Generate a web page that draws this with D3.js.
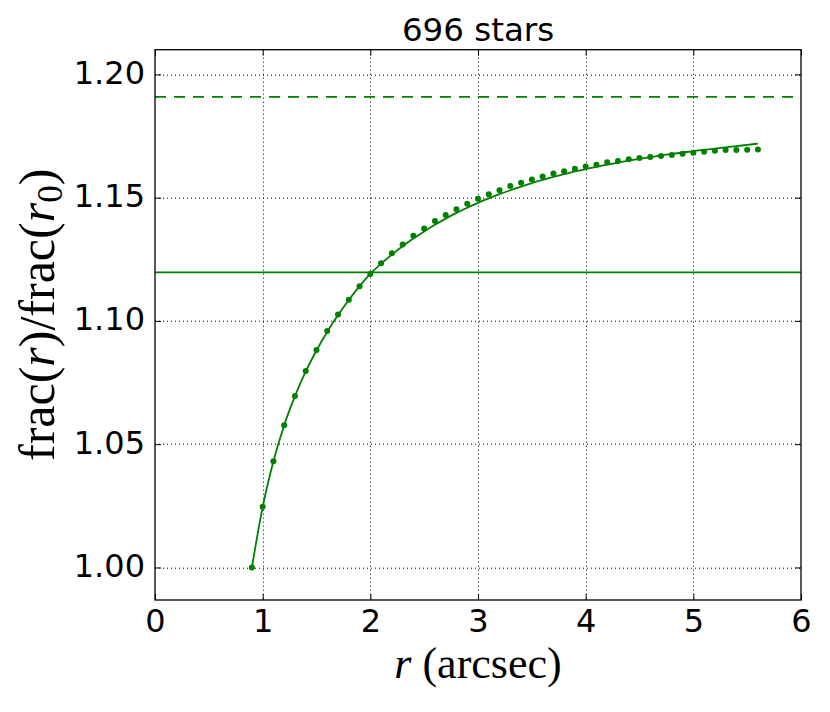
<!DOCTYPE html>
<html>
<head>
<meta charset="utf-8">
<script src="https://cdn.jsdelivr.net/npm/d3@7"></script>
<style>
  html, body { margin: 0; padding: 0; background: #fff; }
  svg { display: block; }
  .tick text { font-family: "DejaVu Sans", sans-serif; }
</style>
</head>
<body>
<svg id="chart" width="830" height="712"></svg>
<script>
// ---- data ----
const titleText = "696 stars";
const rValues = [0.9,1.0,1.1,1.2,1.3,1.4,1.5,1.6,1.7,1.8,1.9,2.0,2.1,2.2,2.3,2.4,2.5,2.6,2.7,2.8,2.9,3.0,
                 3.1,3.2,3.3,3.4,3.5,3.6,3.7,3.8,3.9,4.0,4.1,4.2,4.3,4.4,4.5,4.6,4.7,4.8,4.9,5.0,
                 5.1,5.2,5.3,5.4,5.5,5.6];
const measured = [1.0000,1.0246,1.0431,1.0577,1.0695,1.0797,1.0882,1.0959,1.1026,1.1086,1.1141,1.1190,
                  1.1234,1.1274,1.1310,1.1345,1.1375,1.1405,1.1430,1.1453,1.1475,1.1495,
                  1.1514,1.1530,1.1547,1.1560,1.1574,1.1586,1.1598,1.1607,1.1617,1.1626,
                  1.1633,1.1643,1.1649,1.1656,1.1661,1.1665,1.1669,1.1673,1.1678,1.1682,
                  1.1686,1.1690,1.1693,1.1693,1.1694,1.1695];
const fitted = [1.0000,1.0245,1.0431,1.0577,1.0695,1.0795,1.0880,1.0956,1.1024,1.1085,1.1141,1.1191,
                1.1232,1.1269,1.1303,1.1334,1.1363,1.1390,1.1415,1.1438,1.1459,1.1479,
                1.1497,1.1514,1.1530,1.1545,1.1559,1.1572,1.1584,1.1595,1.1606,1.1616,
                1.1625,1.1634,1.1642,1.1650,1.1657,1.1664,1.1671,1.1677,1.1683,1.1689,
                1.1694,1.1699,1.1704,1.1709,1.1714,1.1719];
const dashedLevel = 1.1909;
const solidLevel = 1.1197;
const xTicks = [0,1,2,3,4,5,6];
const yTicks = [1.00,1.05,1.10,1.15,1.20];
const xDomain = [0, 6];
const yDomain = [0.9868, 1.2100];

// ---- layout ----
const svg = d3.select("#chart");
const mLeft = 155, mRight = 801, mTop = 49.7, mBottom = 600;
const W = mRight - mLeft, H = mBottom - mTop;
const green = "#008000";

const x = d3.scaleLinear().domain(xDomain).range([0, W]);
const y = d3.scaleLinear().domain(yDomain).range([H, 0]);

const g = svg.append("g").attr("transform", `translate(${mLeft},${mTop})`);

// grid
g.append("g").selectAll("line").data(xTicks.slice(1, -1)).join("line")
  .attr("x1", d => Math.round(x(d)) + 0.5).attr("x2", d => Math.round(x(d)) + 0.5).attr("y1", 0).attr("y2", H)
  .attr("stroke", "#000").attr("stroke-width", 1).attr("stroke-dasharray", "1,3");
g.append("g").selectAll("line").data(yTicks).join("line")
  .attr("x1", 0).attr("x2", W).attr("y1", d => Math.round(y(d)) + 0.5).attr("y2", d => Math.round(y(d)) + 0.5)
  .attr("stroke", "#000").attr("stroke-width", 1).attr("stroke-dasharray", "1,3");

// clip
svg.append("defs").append("clipPath").attr("id", "clip")
  .append("rect").attr("width", W).attr("height", H);
const plot = g.append("g").attr("clip-path", "url(#clip)");

// horizontal reference lines
plot.append("line").attr("x1", 0).attr("x2", W)
  .attr("y1", y(dashedLevel)).attr("y2", y(dashedLevel))
  .attr("stroke", green).attr("stroke-width", 1.7).attr("stroke-dasharray", "11,8");
plot.append("line").attr("x1", 0).attr("x2", W)
  .attr("y1", y(solidLevel)).attr("y2", y(solidLevel))
  .attr("stroke", green).attr("stroke-width", 1.7);

// fitted curve
const fitData = rValues.map((r, i) => [r, fitted[i]]);
plot.append("path").datum(fitData)
  .attr("fill", "none").attr("stroke", green).attr("stroke-width", 1.8)
  .attr("d", d3.line().x(d => x(d[0])).y(d => y(d[1])).curve(d3.curveMonotoneX));

// measured points
plot.append("g").selectAll("circle").data(rValues.map((r, i) => [r, measured[i]])).join("circle")
  .attr("cx", d => x(d[0])).attr("cy", d => y(d[1])).attr("r", 3)
  .attr("fill", green);

// axes (ticks inside)
const fmtY = d3.format(".2f");
const axB = g.append("g").attr("transform", `translate(0,${H})`)
  .call(d3.axisBottom(x).tickValues(xTicks).tickFormat(d3.format("d")).tickSizeInner(-6).tickSizeOuter(0).tickPadding(9.5));
const axL = g.append("g")
  .call(d3.axisLeft(y).tickValues(yTicks).tickFormat(fmtY).tickSizeInner(-6).tickSizeOuter(0).tickPadding(10));
const axT = g.append("g")
  .call(d3.axisTop(x).tickValues(xTicks).tickFormat("").tickSizeInner(-6).tickSizeOuter(0));
const axR = g.append("g").attr("transform", `translate(${W},0)`)
  .call(d3.axisRight(y).tickValues(yTicks).tickFormat("").tickSizeInner(-6).tickSizeOuter(0));
[axB, axL, axT, axR].forEach(a => {
  a.select(".domain").remove();
  a.selectAll(".tick line").attr("stroke", "#000").attr("stroke-width", 1);
  a.selectAll(".tick text").attr("font-size", 32).attr("fill", "#000");
});
axL.selectAll(".tick text").attr("dy", "0.28em");

// frame
g.append("rect").attr("width", W).attr("height", H)
  .attr("fill", "none").attr("stroke", "#000").attr("stroke-width", 1.3);

// title
svg.append("text").attr("x", mLeft + W / 2).attr("y", 41)
  .attr("text-anchor", "middle").attr("font-family", "DejaVu Sans, sans-serif")
  .attr("font-size", 32.5).text(titleText);

// x label
const xl = svg.append("text").attr("x", mLeft + W / 2).attr("y", 678)
  .attr("text-anchor", "middle").attr("font-family", "Liberation Serif, serif")
  .attr("font-size", 44);
xl.append("tspan").attr("font-style", "italic").text("r");
xl.append("tspan").text(" (arcsec)");

// y label
const yl = svg.append("text")
  .attr("transform", `translate(54,${mTop + H / 2 - 10}) rotate(-90)`)
  .attr("text-anchor", "middle").attr("font-family", "Liberation Serif, serif")
  .attr("font-size", 50);
yl.append("tspan").text("frac(");
yl.append("tspan").attr("font-style", "italic").text("r");
yl.append("tspan").text(")/frac(");
yl.append("tspan").attr("font-style", "italic").text("r");
yl.append("tspan").attr("font-size", 35).attr("dy", 8).text("0");
yl.append("tspan").attr("dy", -8).text(")");
</script>
</body>
</html>
